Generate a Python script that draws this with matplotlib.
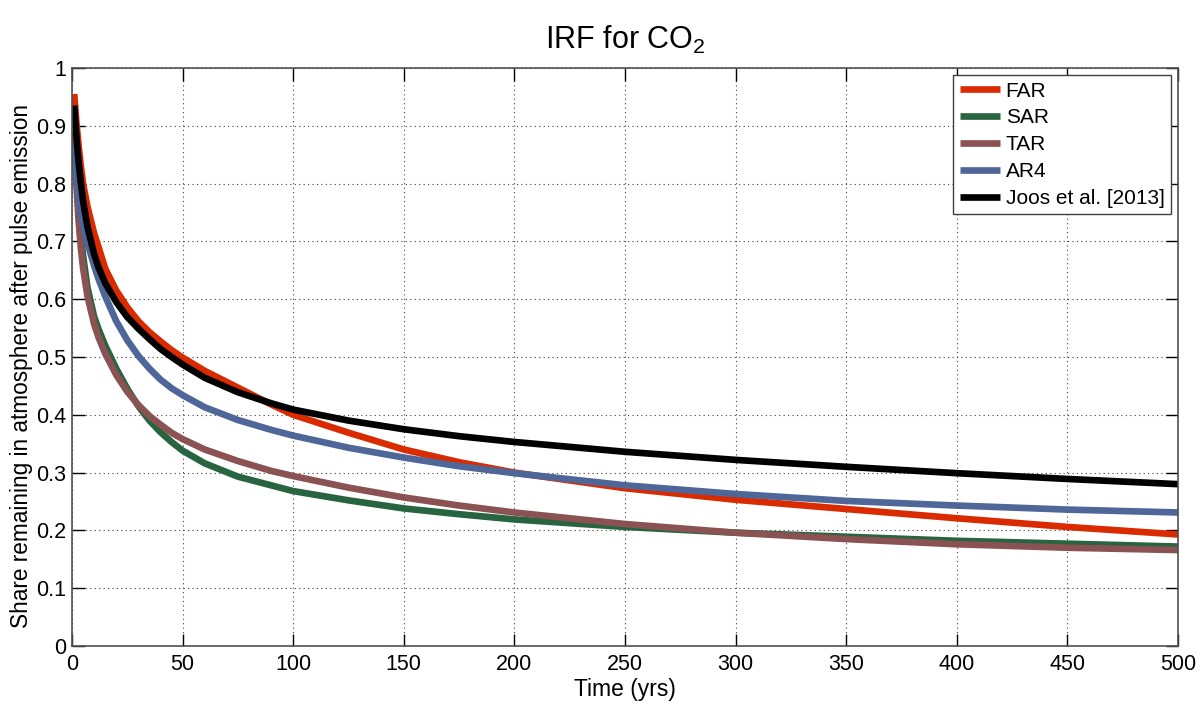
import matplotlib
matplotlib.use("Agg")
import matplotlib.pyplot as plt

plt.rcParams['font.family'] = ['Liberation Sans', 'DejaVu Sans']
plt.rcParams['mathtext.fontset'] = 'custom'
plt.rcParams['mathtext.rm'] = 'Liberation Sans'

# years after pulse
t = [1, 2, 3, 4, 5, 7, 10, 12, 15, 20, 25, 30, 35, 40, 45, 50, 60, 75, 90, 100,
     125, 150, 175, 200, 250, 300, 350, 400, 450, 500]

far = [0.955, 0.905, 0.865, 0.830, 0.800, 0.760, 0.714, 0.690, 0.653, 0.615, 0.586,
       0.562, 0.543, 0.527, 0.512, 0.499, 0.476, 0.447, 0.418, 0.400, 0.369, 0.340,
       0.318, 0.300, 0.273, 0.253, 0.237, 0.221, 0.206, 0.193]
sar = [0.890, 0.810, 0.755, 0.710, 0.675, 0.620, 0.570, 0.548, 0.520, 0.480, 0.445,
       0.415, 0.390, 0.370, 0.353, 0.338, 0.316, 0.293, 0.278, 0.268, 0.252, 0.238,
       0.228, 0.219, 0.206, 0.196, 0.189, 0.182, 0.177, 0.172]
tar = [0.880, 0.797, 0.735, 0.689, 0.654, 0.605, 0.557, 0.534, 0.506, 0.469, 0.440,
       0.417, 0.398, 0.383, 0.369, 0.358, 0.340, 0.320, 0.303, 0.294, 0.274, 0.257,
       0.243, 0.231, 0.211, 0.196, 0.185, 0.176, 0.170, 0.166]
ar4 = [0.875, 0.811, 0.774, 0.749, 0.729, 0.697, 0.658, 0.635, 0.605, 0.562, 0.529,
       0.502, 0.480, 0.461, 0.446, 0.434, 0.413, 0.391, 0.374, 0.364, 0.343, 0.326,
       0.311, 0.299, 0.278, 0.263, 0.251, 0.243, 0.236, 0.231]
joos = [0.935, 0.881, 0.837, 0.801, 0.770, 0.725, 0.678, 0.655, 0.628, 0.595, 0.569,
        0.549, 0.531, 0.514, 0.500, 0.487, 0.464, 0.439, 0.420, 0.409, 0.390, 0.375,
        0.363, 0.353, 0.336, 0.322, 0.310, 0.299, 0.289, 0.280]

series = [("FAR", far, "#DA2A00"),
          ("SAR", sar, "#27643F"),
          ("TAR", tar, "#8A5252"),
          ("AR4", ar4, "#4F6699"),
          ("Joos et al. [2013]", joos, "#000000")]

fig = plt.figure(figsize=(12.04, 7.04), dpi=100)
ax = fig.add_axes([72 / 1204, 1 - 646 / 704, 1106 / 1204, 578 / 704])

for name, vals, col in series:
    ax.plot(t, vals, color=col, lw=4.8, label=name, solid_capstyle='butt')

ax.set_xlim(0, 500)
ax.set_ylim(0, 1)
ax.set_xticks(range(0, 501, 50))
ax.set_yticks([i / 10 for i in range(11)])
ax.set_yticklabels(["0"] + ["%.1f" % (i / 10) for i in range(1, 10)] + ["1"])
ax.grid(True, linestyle=(0, (1, 3)), color='#404040', lw=0.8)
ax.tick_params(direction='in', top=True, right=True, length=9, labelsize=15.5, width=1)
ax.tick_params(axis='x', pad=6)
ax.tick_params(axis='y', pad=4)
for s in ax.spines.values():
    s.set_color('#505050')
    s.set_linewidth(1.2)

ax.set_title("IRF for CO$_2$", fontsize=22, pad=14)
ax.set_xlabel("Time (yrs)", fontsize=16.5, va='top')
ax.xaxis.set_label_coords(0.5, -0.056)
ax.set_ylabel("Share remaining in atmosphere after pulse emission", fontsize=16.3, va='center')
ax.yaxis.set_label_coords(-0.046, 0.485)

leg = ax.legend(loc='upper right', fontsize=15, fancybox=False, framealpha=1,
                edgecolor='#404040', handlelength=1.95, handletextpad=0.25,
                labelspacing=0.38, borderaxespad=0.35, borderpad=0.3)
leg.get_frame().set_linewidth(1.0)

fig.savefig("out.png", dpi=100)
